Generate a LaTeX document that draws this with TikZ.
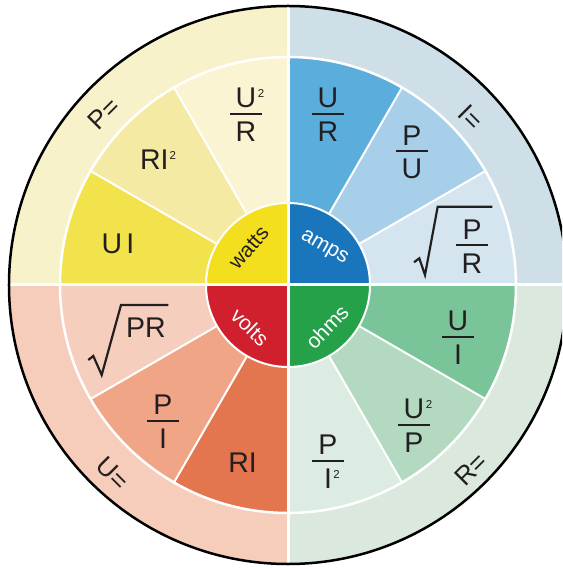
\documentclass[tikz,border=0pt]{standalone}
\usepackage{fontspec}
\setmainfont{Liberation Sans}
\definecolor{txt}{HTML}{231F20}
% bands
\definecolor{bandY}{HTML}{F8F2CB}
\definecolor{bandB}{HTML}{CFDFE7}
\definecolor{bandR}{HTML}{F6CDBA}
\definecolor{bandG}{HTML}{DAE8DD}
% wedges
\definecolor{wY1}{HTML}{FAF4D2}
\definecolor{wY2}{HTML}{F4EAA3}
\definecolor{wY3}{HTML}{F2E24C}
\definecolor{wB1}{HTML}{5BAEDC}
\definecolor{wB2}{HTML}{A8CFEA}
\definecolor{wB3}{HTML}{D4E5F0}
\definecolor{wR1}{HTML}{F6CEBD}
\definecolor{wR2}{HTML}{F1A587}
\definecolor{wR3}{HTML}{E4764F}
\definecolor{wG1}{HTML}{DDECE2}
\definecolor{wG2}{HTML}{B3D9C0}
\definecolor{wG3}{HTML}{7AC49A}
% centre
\definecolor{cY}{HTML}{F4DF1E}
\definecolor{cB}{HTML}{1A76BC}
\definecolor{cR}{HTML}{D0202E}
\definecolor{cG}{HTML}{25A14A}
\newcommand{\fr}[2]{\vbox{\offinterlineskip\halign{\hfil##\hfil\cr #1\cr\noalign{\kern5pt}\rule{32pt}{2pt}\cr\noalign{\kern7pt}#2\cr}}}
\newcommand{\sqr}{\rlap{\kern1.5pt\raisebox{10pt}{\fontsize{11.5}{12}\selectfont 2}}}
\newcommand{\sqb}{\kern1pt\raisebox{10pt}{\fontsize{11.5}{12}\selectfont 2}}
\tikzset{
  lab/.style={font=\fontsize{28.5}{30}\selectfont, text=txt, inner sep=0pt},
  ctrlab/.style={font=\fontsize{21}{23}\selectfont, inner sep=0pt},
  outlab/.style={font=\fontsize{26}{28}\selectfont, text=txt, inner sep=0pt},
  wline/.style={draw=white, line width=2pt},
  radical/.style={draw=txt, line width=2.2pt, line join=miter, miter limit=10},
}
\newcommand{\mywedge}[3]{\fill[#1] (0,0) -- (#2:228pt) arc[start angle=#2, end angle=#3, radius=228pt] -- cycle;}
\newcommand{\myband}[3]{\fill[#1] (0,0) -- (#2:279pt) arc[start angle=#2, end angle=#3, radius=279pt] -- cycle;}
\newcommand{\myctrq}[3]{\fill[#1] (0,0) -- (#2:82pt) arc[start angle=#2, end angle=#3, radius=82pt] -- cycle;}
\begin{document}
\begin{tikzpicture}[x=1pt,y=1pt]
\useasboundingbox (-288,-284) rectangle (274,285);
\clip (-288,-284) rectangle (274,285);
\fill[white] (-288,-284) rectangle (274,285);
% outer bands
\myband{bandB}{0}{90}
\myband{bandY}{90}{180}
\myband{bandR}{180}{270}
\myband{bandG}{270}{360}
% wedges
\mywedge{wB3}{0}{30}
\mywedge{wB2}{30}{60}
\mywedge{wB1}{60}{90}
\mywedge{wY1}{90}{120}
\mywedge{wY2}{120}{150}
\mywedge{wY3}{150}{180}
\mywedge{wR1}{180}{210}
\mywedge{wR2}{210}{240}
\mywedge{wR3}{240}{270}
\mywedge{wG1}{270}{300}
\mywedge{wG2}{300}{330}
\mywedge{wG3}{330}{360}
% ring
\draw[white, line width=2.5pt] (0,0) circle[radius=228pt];
% wedge dividers
\foreach \a in {30,60,120,150,210,240,300,330}
  \draw[wline] (\a:82pt) -- (\a:228pt);
% centre disk
\myctrq{cB}{0}{90}
\myctrq{cY}{90}{180}
\myctrq{cR}{180}{270}
\myctrq{cG}{270}{360}
\draw[white, line width=2pt] (0,0) circle[radius=82pt];
% cross
\draw[white, line width=3pt] (-280,0) -- (280,0);
\draw[white, line width=3pt] (0,-280) -- (0,280);
% outline
\draw[black, line width=2.5pt] (0,0) circle[radius=279pt];
% centre labels
\node[ctrlab, text=txt, rotate=49] (watts) at (-39,37) {watts};
\node[ctrlab, text=white, rotate=-30] (amps) at (36,37) {amps};
\node[ctrlab, text=white, rotate=-44] (volts) at (-38,-42) {volts};
\node[ctrlab, text=white, rotate=46] (ohms) at (39,-42) {ohms};
% outer labels
\node[outlab, rotate=45] (peq) at (-184,171.5) {P=};
\node[outlab, rotate=-45] (ieq) at (182.5,167.5) {I=};
\node[outlab, rotate=45] (req) at (183,-184.5) {R=};
\node[outlab, rotate=-45] (ueq) at (-175.5,-188.5) {U=};
% power
\node[lab] (ui) at (-170,41) {U\kern4pt I};
\node[lab] (ri2) at (-130,125) {RI\sqb};
\node[lab] (u2r) at (-42,170) {\fr{U\sqr}{R}};
% current
\node[lab] (ur) at (40,170.5) {\fr{U}{R}};
\node[lab] (pu) at (124,132.5) {\fr{P}{U}};
\node[lab] (spr) at (184,38.5) {\fr{P}{R}};
\draw[radical] (126,22.7) -- (131.3,26.7) -- (137,10) -- (149.7,78.3) -- (204.3,78.3);
% resistance
\node[lab] (ui2) at (170,-52.5) {\fr{U}{I}};
\node[lab] (u2p) at (126,-140.5) {\fr{U\sqr}{P}};
\node[lab] (pi2) at (40,-176.5) {\fr{P}{I\sqr}};
% voltage
\node[lab] (ri) at (-45.5,-178) {RI};
\node[lab] (pi) at (-125,-136.5) {\fr{P}{I}};
\node[lab] (pr) at (-142,-42.5) {PR};
\draw[radical] (-199.7,-75) -- (-194.7,-71) -- (-186.3,-90) -- (-167,-20) -- (-119.7,-20);
\end{tikzpicture}
\end{document}
